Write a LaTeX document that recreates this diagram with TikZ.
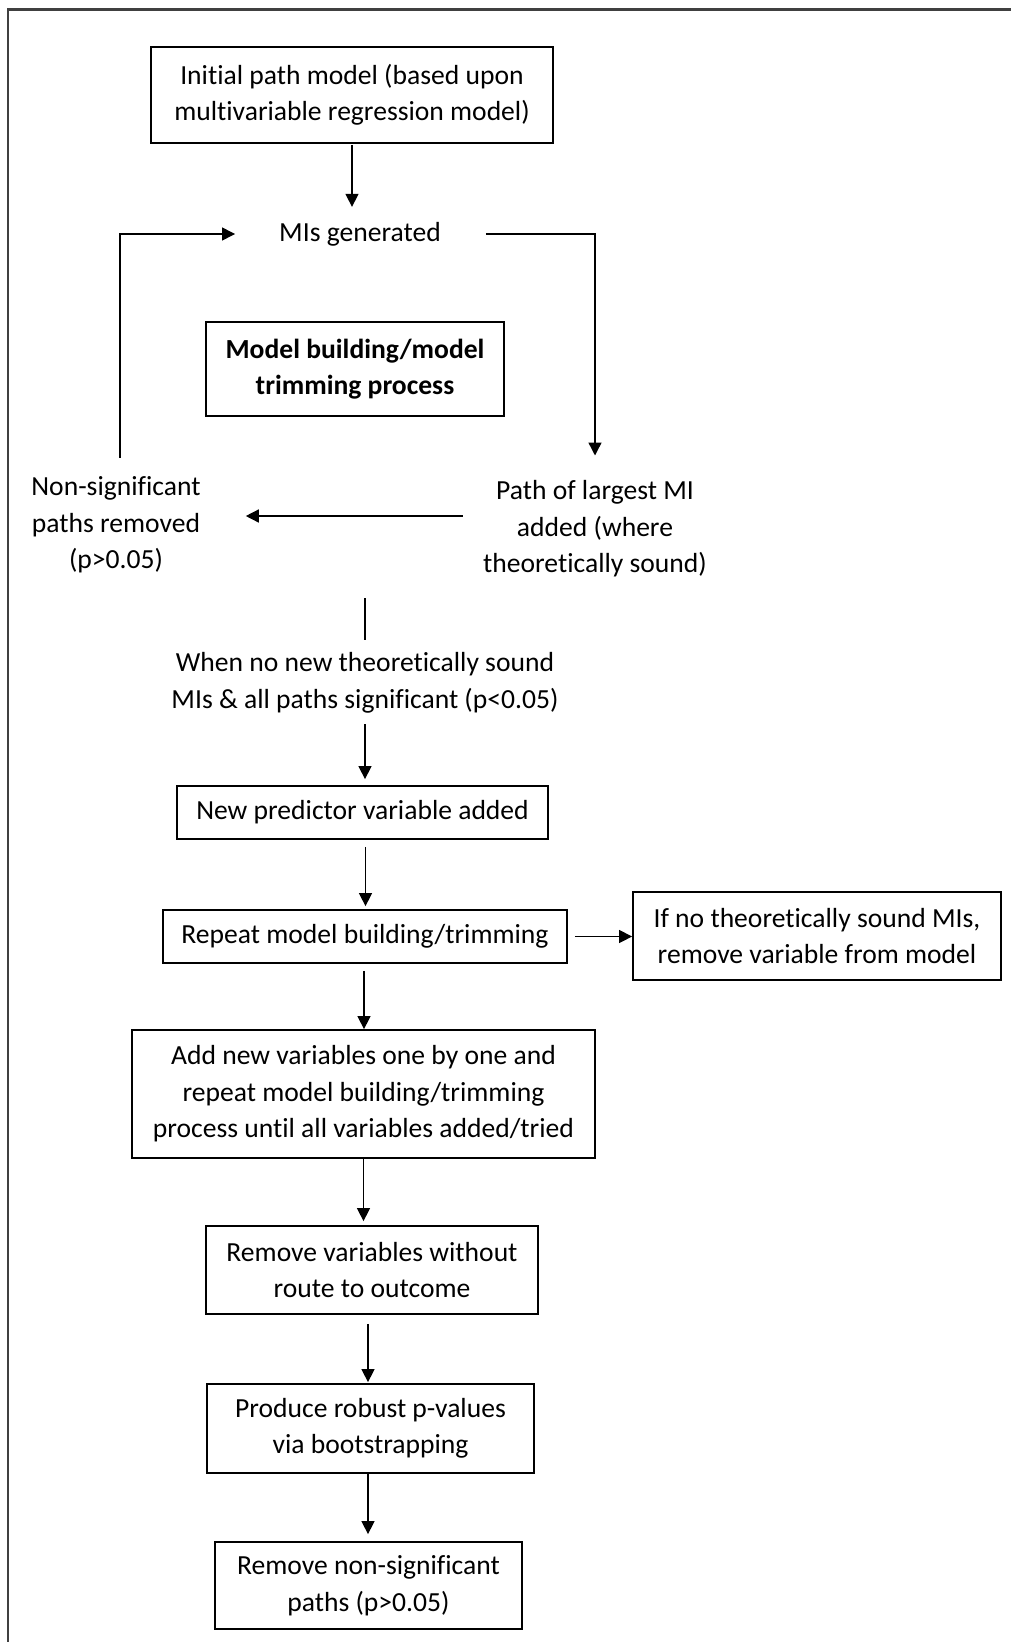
\documentclass[tikz,border=0pt]{standalone}
\usepackage{fontspec}
\setmainfont{Carlito}[Ligatures=NoCommon]
\usetikzlibrary{arrows.meta}
\begin{document}
\begin{tikzpicture}[x=1pt,y=-1pt,
  txt/.style={align=center,inner sep=0pt,font=\fontsize{27.6}{36.5}\selectfont},
  box/.style={txt,draw,line width=1.8pt},
  link/.style={line width=1.4pt},
  arr/.style={link,-{Triangle[length=13pt,width=13pt]}},
  frame/.style={line width=2.6pt,draw=black!75}
]
\useasboundingbox (0,0) rectangle (1010,1642);

% outer frame (top and left edges)
\draw[frame] (8,1650) -- (8,9.5) -- (1020,9.5);

% nodes
\node[box,minimum width=402,minimum height=96] (init) at (352,95)
  {Initial path model (based upon\\multivariable regression model)};
\node[txt] (mis) at (360,234) {MIs generated};
\node[box,minimum width=298,minimum height=94,
      font=\fontsize{27.6}{36.5}\selectfont\bfseries] (proc) at (355,369)
  {Model building/model\\trimming process};
\node[txt] (nonsig) at (116,525) {Non-significant\\paths removed\\(p>0.05)};
\node[txt] (path) at (595,529) {Path of largest MI\\added (where\\theoretically sound)};
\node[txt] (when) at (365,683)
  {When no new theoretically sound\\MIs \& all paths significant (p<0.05)};
\node[box,minimum width=371,minimum height=53] (newpred) at (362.5,812.5)
  {New predictor variable added};
\node[box,minimum width=404,minimum height=53] (repeat) at (365,936.5)
  {Repeat model building/trimming};
\node[box,minimum width=368,minimum height=88] (ifno) at (817,936)
  {If no theoretically sound MIs,\\remove variable from model};
\node[box,minimum width=463,minimum height=128] (addnew) at (363.5,1094)
  {Add new variables one by one and\\repeat model building/trimming\\process until all variables added/tried};
\node[box,minimum width=332,minimum height=88] (remvar) at (372,1270)
  {Remove variables without\\route to outcome};
\node[box,minimum width=327,minimum height=89] (boot) at (370.5,1428.5)
  {Produce robust p-values\\via bootstrapping};
\node[box,minimum width=307,minimum height=87] (remns) at (368.5,1585.5)
  {Remove non-significant\\paths (p>0.05)};
\coordinate (split) at (365,598);

% connectors
\draw[arr,shorten <=1pt,shorten >=15pt] (init.south) -- (init.south |- mis.north);
\draw[arr,shorten <=45pt,shorten >=25pt] (mis.east) -| (path.north);
\draw[arr,shorten <=20pt,shorten >=45pt]
  ([yshift=13pt]path.west) -- ([yshift=13pt]path.west -| nonsig.east);
\draw[arr,shorten <=19pt,shorten >=44pt] ([xshift=4pt]nonsig.north) |- (mis.west);
\draw[link,shorten >=12.5pt] (split) -- (when.north);
\draw[arr,shorten <=11pt,shorten >=6pt] (when.south) -- (when.south |- newpred.north);
\draw[arr,shorten <=7pt,shorten >=3pt] ([xshift=3pt]newpred.south) -- ([xshift=3pt]newpred.south |- repeat.north);
\draw[arr,shorten <=7pt] (repeat.east) -- (repeat.east -| ifno.west);
\draw[arr,shorten <=7pt] ([xshift=-1pt]repeat.south) -- ([xshift=-1pt]repeat.south |- addnew.north);
\draw[arr,shorten >=4pt] (addnew.south) -- (addnew.south |- remvar.north);
\draw[arr,shorten <=9pt,shorten >=1pt] ([xshift=-4pt]remvar.south) -- ([xshift=-4pt]remvar.south |- boot.north);
\draw[arr,shorten >=7pt] ([xshift=-2.5pt]boot.south) -- ([xshift=-2.5pt]boot.south |- remns.north);
\end{tikzpicture}
\end{document}
